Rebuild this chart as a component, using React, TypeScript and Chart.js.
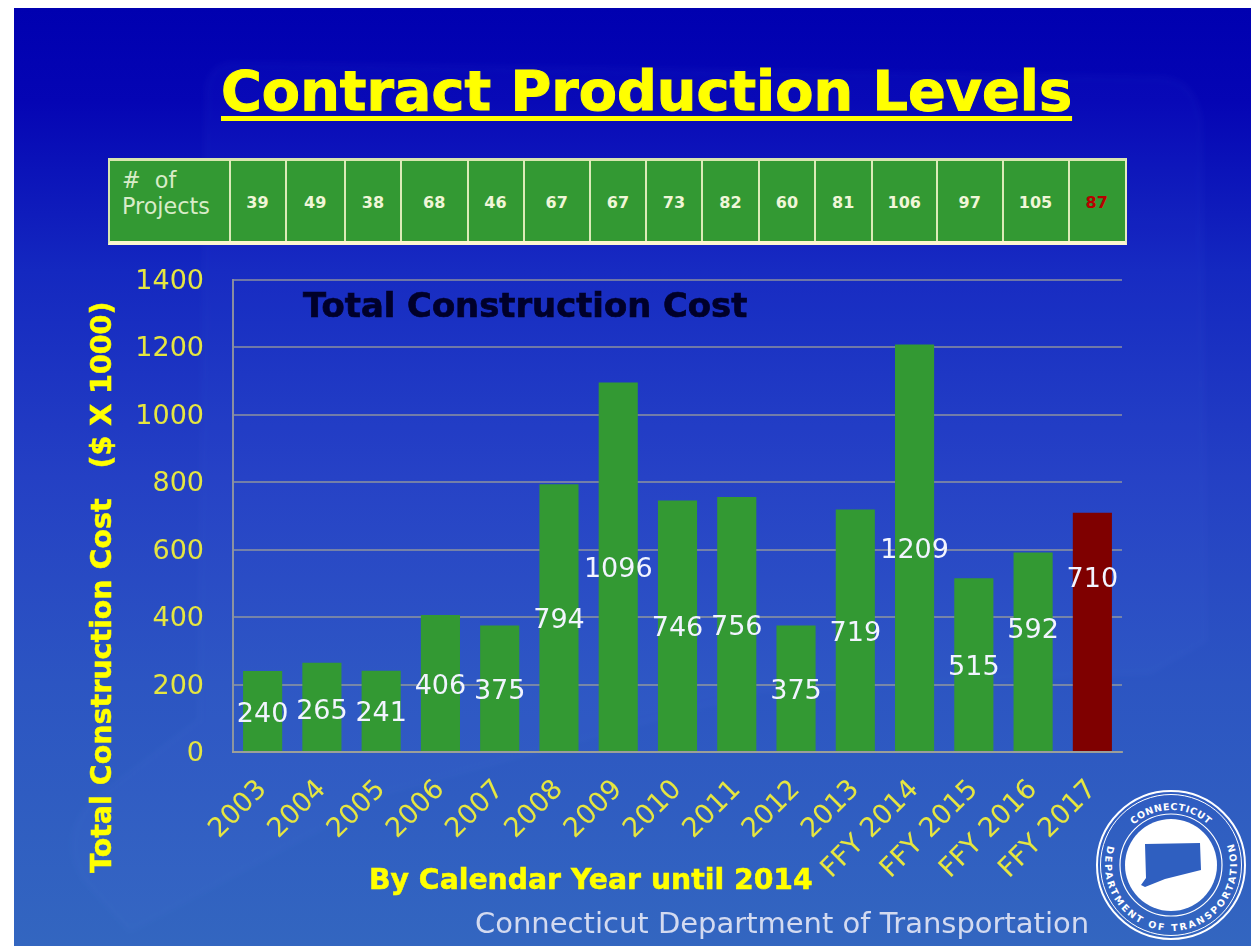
import React, { useEffect, useRef } from "react";
import { Chart, registerables } from "chart.js";

Chart.register(...registerables);

const categories = ["2003","2004","2005","2006","2007","2008","2009","2010","2011","2012","2013","FFY 2014","FFY 2015","FFY 2016","FFY 2017"];
const costs = [240,265,241,406,375,794,1096,746,756,375,719,1209,515,592,710];
const projects = [39,49,38,68,46,67,67,73,82,60,81,106,97,105,87];
const yTicks = [0,200,400,600,800,1000,1200,1400];

const GREEN = "#339933";
const DARKRED = "#7f0000";
const YELLOW = "#ffff00";
const TICKYELLOW = "#e6e640";
const FONT = "'DejaVu Sans', Verdana, sans-serif";

const valueLabels = {
  id: "valueLabels",
  afterDatasetsDraw(chart: any) {
    const { ctx } = chart;
    const meta = chart.getDatasetMeta(0);
    // hand placed in the original slide: these labels sit off the bar centre
    const nudge: Record<number, number> = { 1: 2, 13: -24, 14: -55 };
    ctx.save();
    ctx.font = `27px ${FONT}`;
    ctx.fillStyle = "#f2f4ff";
    ctx.textAlign = "center";
    ctx.textBaseline = "middle";
    meta.data.forEach((bar: any, i: number) => {
      const mid = chart.scales.y.getPixelForValue(costs[i] / 2);
      ctx.fillText(String(costs[i]), bar.x, mid + 3 + (nudge[i] ?? 0));
    });
    ctx.restore();
  },
};

function Txt(p: { x: number; y: number; size: number; color: string; bold?: boolean; stroke?: number; children: any; underline?: boolean }) {
  return (
    <div style={{ position: "absolute", left: p.x, top: p.y, fontFamily: FONT, fontSize: p.size, lineHeight: 1, color: p.color,
      fontWeight: p.bold ? 700 : 400, whiteSpace: "pre",
      WebkitTextStroke: p.stroke ? `${p.stroke}px ${p.color}` : undefined,
      textDecoration: p.underline ? "underline" : "none", textDecorationThickness: 5, textUnderlineOffset: 6 } as any}>{p.children}</div>
  );
}

function Seal() {
  const cx = 1171, cy = 865;
  const polar = (r: number, deg: number) => {
    const a = (deg * Math.PI) / 180;
    return `${cx + r * Math.cos(a)} ${cy + r * Math.sin(a)}`;
  };
  return (
    <svg width={1251} height={946} style={{ position: "absolute", left: 0, top: 0 }}>
      <defs>
        <path id="sealTop" d={`M ${polar(55, -137)} A 55 55 0 0 1 ${polar(55, -43)}`} />
        <path id="sealBot" d={`M ${polar(66, 209)} A 66 66 0 1 0 ${polar(66, -33)}`} />
      </defs>
      <circle cx={cx} cy={cy} r={74} fill="none" stroke="#fff" strokeWidth={2} />
      <circle cx={cx} cy={cy} r={70.5} fill="none" stroke="#fff" strokeWidth={1} />
      <circle cx={cx} cy={cy} r={51} fill="none" stroke="#fff" strokeWidth={1.2} />
      <circle cx={cx} cy={cy} r={46} fill="#fff" />
      <polygon points="1145,844 1200,843 1201,870 1165,879 1145,887 1141,885 1146,878" fill="#2f5fc0" />
      <text fill="#fff" fontFamily={FONT} fontWeight={700} fontSize={9.5} letterSpacing={0.6}>
        <textPath href="#sealTop" startOffset="50%" textAnchor="middle">CONNECTICUT</textPath>
      </text>
      <text fill="#fff" fontFamily={FONT} fontWeight={700} fontSize={9.5} letterSpacing={2.2}>
        <textPath href="#sealBot" startOffset="50%" textAnchor="middle">DEPARTMENT OF TRANSPORTATION</textPath>
      </text>
    </svg>
  );
}

function ProjectsTable() {
  const edges = [110, 229.5, 285.5, 345, 401, 467.5, 523.5, 590, 646, 702, 759, 815, 871.5, 937, 1002.5, 1068.5, 1125];
  return (
    <div style={{ position: "absolute", left: 108, top: 158, width: 1019, height: 87, background: GREEN, boxSizing: "border-box",
      borderTop: "3px solid #d8e6b0", borderLeft: "2px solid #d8e6b0", borderRight: "2px solid #e4ecc0", borderBottom: "4px solid #fbf6cf" }}>
      {edges.slice(1, -1).map((e) => (
        <div key={e} style={{ position: "absolute", left: e - 111, top: -1, width: 2, height: 81, background: "#dcebb8" }} />
      ))}
      <div style={{ position: "absolute", left: 12, top: 6, fontFamily: FONT, fontSize: 22.3, lineHeight: "26px", color: "#d8ecc8", whiteSpace: "pre" }}>{"#  of\nProjects"}</div>
      {projects.map((v, i) => (
        <div key={i} style={{ position: "absolute", left: edges[i + 1] - 110, width: edges[i + 2] - edges[i + 1], top: 32, textAlign: "center",
          fontFamily: FONT, fontWeight: 700, fontSize: 16, color: i === projects.length - 1 ? "#b80000" : "#f0f6d8" }}>{v}</div>
      ))}
    </div>
  );
}

export default function App() {
  const ref = useRef<HTMLCanvasElement>(null);
  useEffect(() => {
    document.body.style.overflow = "hidden";
    const chart = new Chart(ref.current!, {
      type: "bar",
      data: {
        labels: categories,
        datasets: [{
          data: costs,
          backgroundColor: categories.map((_, i) => (i === categories.length - 1 ? DARKRED : GREEN)),
          categoryPercentage: 1,
          barPercentage: 0.66,
        }],
      },
      options: {
        animation: false,
        responsive: false,
        layout: { padding: { left: 120, right: 129, top: 280, bottom: 0 } },
        plugins: { legend: { display: false }, tooltip: { enabled: false } },
        scales: {
          x: {
            grid: { display: false },
            border: { color: "rgba(165,165,150,0.8)", width: 2 },
            afterFit: (s: any) => { s.height = 194; },
            ticks: { color: TICKYELLOW, font: { family: FONT, size: 27 }, maxRotation: 45, minRotation: 45, autoSkip: false, padding: 14 },
          },
          y: {
            min: 0,
            max: 1400,
            afterFit: (s: any) => { s.width = 113; },
            grid: { color: "rgba(165,165,150,0.62)", lineWidth: 2, drawTicks: false },
            border: { color: "rgba(165,165,150,0.8)", width: 2 },
            ticks: {
              color: TICKYELLOW, font: { family: FONT, size: 27 }, padding: 29, stepSize: 200, labelOffset: 2,
              callback: (v: any) => (yTicks.includes(Number(v)) ? String(v) : ""),
            },
          },
        },
      },
      plugins: [valueLabels],
    } as any);
    return () => chart.destroy();
  }, []);

  return (
    <div style={{ position: "absolute", left: 0, top: 0, width: 1251, height: 946, overflow: "hidden", background: "#fff", filter: "blur(0.45px)" }}>
      <div style={{ position: "absolute", left: 14, top: 8, right: 0, bottom: 0,
        background: "linear-gradient(180deg,#0000b0 0%,#0505b4 10%,#1428c0 28%,#2440c4 50%,#2c55c2 72%,#3366c0 100%)" }} />
      <svg width={1251} height={946} style={{ position: "absolute", left: 0, top: 0 }}>
        <defs><filter id="soft"><feGaussianBlur stdDeviation="3" /></filter></defs>
        <path d="M207 90 Q210 62 240 64 L1160 78 Q1195 80 1200 120 L1205 640 L1150 672 L760 690 L390 790 L130 930 L85 880 Q60 840 90 805 L200 720 Z"
          fill="rgba(120,150,255,0.035)" stroke="rgba(130,160,255,0.035)" strokeWidth={4} filter="url(#soft)" />
      </svg>
      <Seal />
      <canvas ref={ref} width={1251} height={946} style={{ position: "absolute", left: 0, top: 0 }} />
      <Txt x={221} y={63} size={55.7} color={YELLOW} bold stroke={1} underline>Contract Production Levels</Txt>
      <ProjectsTable />
      <Txt x={303} y={289} size={33.8} color="#00002a" bold stroke={0.7}>Total Construction Cost</Txt>
      <div style={{ position: "absolute", left: 86, top: 299, height: 574, writingMode: "vertical-rl", transform: "rotate(180deg)",
        fontFamily: FONT, fontWeight: 700, fontSize: 28.5, lineHeight: "32px", color: YELLOW, whiteSpace: "pre", WebkitTextStroke: `0.5px ${YELLOW}` } as any}>{"Total Construction Cost   ($ X 1000)"}</div>
      <Txt x={369} y={866} size={28.3} color={YELLOW} bold stroke={0.5}>By Calendar Year until 2014</Txt>
      <Txt x={475} y={909} size={29} color="#d3daf0">Connecticut Department of Transportation</Txt>
    </div>
  );
}
